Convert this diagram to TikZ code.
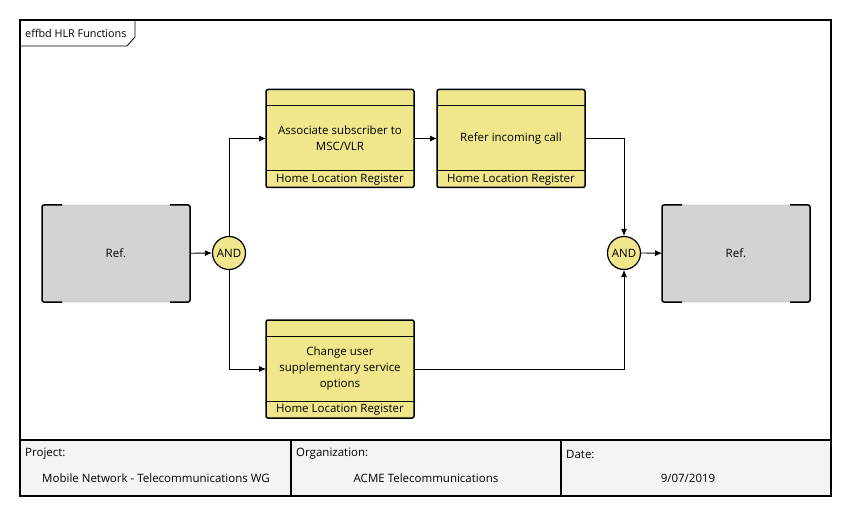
\documentclass[tikz,border=0pt]{standalone}
\usepackage{fontspec}
\setmainfont{Open Sans}
\usetikzlibrary{arrows.meta, positioning, calc}
\definecolor{fnyellow}{RGB}{240,230,140}
\definecolor{refgray}{RGB}{211,211,211}
\definecolor{tablegray}{RGB}{244,244,244}
\tikzset{
   myfunc/.style={draw, line width=1.5pt, rounded corners=2pt, fill=fnyellow, outer sep=0pt,
                  minimum width=148pt, minimum height=98pt, align=center},
   myref/.style={draw=gray!60, fill=refgray, rounded corners=2pt, outer sep=0pt,
                 minimum width=148pt, minimum height=97pt},
   myand/.style={circle, draw, line width=1.2pt, fill=fnyellow, minimum size=33pt, inner sep=0pt},
   mycell/.style={draw, line width=1.5pt, fill=tablegray},
   mylabel/.style={anchor=west, inner sep=0pt}
}

\begin{document}
\begin{tikzpicture}[x=1pt, y=-1pt, font=\fontsize{11.5}{16}\selectfont]
   \tikzstyle{line} = [draw, line width=0.8pt, -{Latex[length=7pt, width=6pt]}]
   \useasboundingbox (0,0) rectangle (852,516);
   % frame and title tab
   \draw[line width=1.5pt] (20,20) rectangle (831,496);
   \draw[line width=0.8pt] (20,46) -- (127,46) -- (135,37) -- (135,20);
   \node[mylabel, font=\fontsize{10.8}{12}\selectfont] (title) at (25,33.5) {effbd HLR Functions};
   % functions
   \node[myref] (refL) at (116,253.5) {Ref.};
   \node[myref] (refR) at (736,253.5) {Ref.};
   \node[myand] (andL) at (229,253) {AND};
   \node[myand] (andR) at (624,253) {AND};
   \node[myfunc] (assoc) at (340,138.5) {Associate subscriber to\\MSC/VLR};
   \node[myfunc] (refer) at (511,138.5) {Refer incoming call};
   \node[myfunc] (change) at (340,369) {Change user\\supplementary service\\options};
   \foreach \r in {refL, refR} {
      \draw[line width=1.5pt, rounded corners=2pt] ([xshift=20pt]\r.north west) -- (\r.north west)
         -- (\r.south west) -- ([xshift=20pt]\r.south west);
      \draw[line width=1.5pt, rounded corners=2pt] ([xshift=-20pt]\r.north east) -- (\r.north east)
         -- (\r.south east) -- ([xshift=-20pt]\r.south east);
   }
   \foreach \f in {assoc, refer, change} {
      \draw[line width=1pt] ([yshift=-16pt]\f.north west) -- ([yshift=-16pt]\f.north east);
      \draw[line width=1pt] ([yshift=17pt]\f.south west) -- ([yshift=17pt]\f.south east);
      \node (\f-reg) at ([yshift=8pt]\f.south) {Home Location Register};
   }
   % connectors
   \path [line] (refL) -- (andL);
   \path [line] (andL) |- (assoc);
   \path [line] (andL) |- (change);
   \path [line] (assoc) -- (refer);
   \path [line] (refer) -| (andR);
   \path [line] (change) -| (andR);
   \path [line] (andR) -- (refR);
   % info table
   \draw[mycell] (20,440) rectangle (291,496);
   \draw[mycell] (291,440) rectangle (561,496);
   \draw[mycell] (561,440) rectangle (831,496);
   \node[mylabel] (project) at (25,454) {Project:};
   \node[mylabel] (org) at (296,454) {Organization:};
   \node[mylabel] (date) at (566,454) {Date:};
   \node (projectval) at (156,478) {Mobile Network - Telecommunications WG};
   \node (orgval) at (426,478) {ACME Telecommunications};
   \node (dateval) at (688,478) {9/07/2019};
\end{tikzpicture}
\end{document}
